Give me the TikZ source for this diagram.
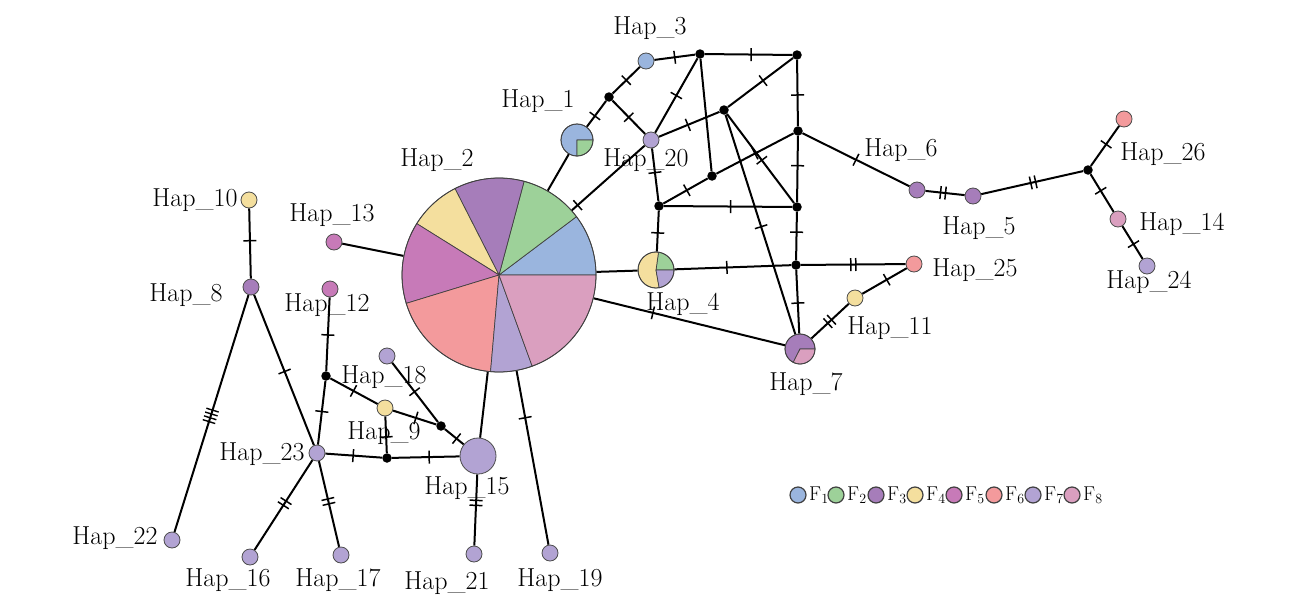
\documentclass[tikz,border=0pt]{standalone}
\usetikzlibrary{decorations.markings}
\definecolor{cA}{HTML}{9AB5DE}
\definecolor{cB}{HTML}{9DD199}
\definecolor{cC}{HTML}{A67DBA}
\definecolor{cD}{HTML}{F4DF9E}
\definecolor{cE}{HTML}{C77AB8}
\definecolor{cF}{HTML}{F39A9C}
\definecolor{cG}{HTML}{B2A3D3}
\definecolor{cH}{HTML}{DA9FBF}
\pgfdeclarelayer{bg}
\pgfdeclarelayer{paper}
\pgfsetlayers{paper,bg,main}
\newcommand{\pieslc}[6]{\begin{scope}[shift={(#1,#2)},x=1pt,y=1pt]\filldraw[fill=#6,draw=black!75,line width=0.7pt] (0,0) -- (#4:#3) arc[start angle=#4,end angle=#5,radius=#3] -- cycle;\end{scope}}
\tikzset{
  hap/.style={circle,draw=black!70,line width=0.8pt,minimum size=16pt,inner sep=0pt},
  pienode/.style={circle,draw=black!75,line width=0.8pt,inner sep=0pt},
  mv/.style={circle,fill=black,minimum size=9.5pt,inner sep=0pt},
  lbl/.style={font=\fontsize{26}{30}\selectfont,inner sep=0pt},
  edge/.style={line width=2pt},
  tk/.style={postaction={decorate,decoration={markings,mark=at position #1 with {\draw[line width=1.5pt] (0pt,-6.5pt)--(0pt,6.5pt);}}}},
  tkk/.style={postaction={decorate,decoration={markings,mark=at position #1 with {\draw[line width=1.5pt] (-2.5pt,-6.5pt)--(-2.5pt,6.5pt) (2.5pt,-6.5pt)--(2.5pt,6.5pt);}}}},
  tkkkk/.style={postaction={decorate,decoration={markings,mark=at position #1 with {\draw[line width=1.4pt] (-6pt,-6.5pt)--(-6pt,6.5pt) (-2pt,-6.5pt)--(-2pt,6.5pt) (2pt,-6.5pt)--(2pt,6.5pt) (6pt,-6.5pt)--(6pt,6.5pt);}}}},
  leg/.style={circle,draw=black!75,line width=1.2pt,minimum size=16pt,inner sep=0pt},
  legt/.style={font=\fontsize{20}{22}\selectfont,anchor=west,inner sep=0pt}
}
\begin{document}
\begin{tikzpicture}[x=1pt,y=-1pt]
\useasboundingbox (0,0) rectangle (1292,605);
\begin{pgfonlayer}{paper}
\fill[white] (0,0) rectangle (1292,605);
\end{pgfonlayer}
% pies
\pieslc{499}{275}{97}{0}{37}{cA}
\pieslc{499}{275}{97}{37}{75}{cB}
\pieslc{499}{275}{97}{75}{117}{cC}
\pieslc{499}{275}{97}{117}{148}{cD}
\pieslc{499}{275}{97}{148}{197}{cE}
\pieslc{499}{275}{97}{197}{265}{cF}
\pieslc{499}{275}{97}{265}{290}{cG}
\pieslc{499}{275}{97}{290}{360}{cH}
\node[pienode,minimum size=194pt] (h2) at (499,275) {};
\pieslc{577}{140}{16}{0}{270}{cA}
\pieslc{577}{140}{16}{270}{360}{cB}
\node[pienode,minimum size=32pt] (h1) at (577,140) {};
\pieslc{656}{270}{18}{0}{82}{cB}
\pieslc{656}{270}{18}{82}{280}{cD}
\pieslc{656}{270}{18}{280}{360}{cG}
\node[pienode,minimum size=36pt] (h4) at (656,270) {};
\pieslc{800}{349}{15}{0}{243}{cC}
\pieslc{800}{349}{15}{243}{360}{cH}
\node[pienode,minimum size=30pt] (h7) at (800,349) {};
% haplotypes
\node[hap,fill=cA] (h3) at (646,61) {};
\node[hap,fill=cG] (h20) at (651,140) {};
\node[hap,fill=cC] (h6) at (917,190) {};
\node[hap,fill=cC] (h5) at (973,196) {};
\node[hap,fill=cF] (h26) at (1124,119) {};
\node[hap,fill=cH] (h14) at (1118,219) {};
\node[hap,fill=cG] (h24) at (1147,266) {};
\node[hap,fill=cF] (h25) at (914,264) {};
\node[hap,fill=cD] (h11) at (855,298) {};
\node[hap,fill=cD] (h10) at (249,200) {};
\node[hap,fill=cC] (h8) at (251,287) {};
\node[hap,fill=cE] (h13) at (334,242) {};
\node[hap,fill=cE] (h12) at (330,289) {};
\node[hap,fill=cG] (h18) at (387,356) {};
\node[hap,fill=cD] (h9) at (385,408) {};
\node[hap,fill=cG] (h23) at (317,453) {};
\node[hap,fill=cG,minimum size=36pt] (h15) at (478,456) {};
\node[hap,fill=cG] (h22) at (172,540) {};
\node[hap,fill=cG] (h16) at (250,557) {};
\node[hap,fill=cG] (h17) at (341,555) {};
\node[hap,fill=cG] (h21) at (474,554) {};
\node[hap,fill=cG] (h19) at (550,553) {};
% median vectors
\node[mv] (ma) at (609,97) {};
\node[mv] (mb) at (700,54) {};
\node[mv] (mc) at (797,55) {};
\node[mv] (md) at (724,110) {};
\node[mv] (me) at (798,131) {};
\node[mv] (mf) at (712,176) {};
\node[mv] (mg) at (659,206) {};
\node[mv] (mh) at (797,207) {};
\node[mv] (mi) at (796,265) {};
\node[mv] (mj) at (1088,170) {};
\node[mv] (mk) at (326,376) {};
\node[mv] (ml) at (441,426) {};
\node[mv] (mm) at (387,458) {};
% edges
\begin{pgfonlayer}{bg}
\draw[edge] (h2) -- (h1);
\draw[edge,tk=0.08] (h2) -- (h20);
\draw[edge,tk=0.42] (h1) -- (ma);
\draw[edge,tk=0.5] (ma) -- (h3);
\draw[edge,tk=0.5] (ma) -- (h20);
\draw[edge,tk=0.5] (h3) -- (mb);
\draw[edge,tk=0.53] (mb) -- (mc);
\draw[edge,tk=0.5] (h20) -- (mb);
\draw[edge] (mb) -- (mf);
\draw[edge,tk=0.54] (md) -- (mc);
\draw[edge,tk=0.53] (mc) -- (me);
\draw[edge,tk=0.48] (h20) -- (md);
\draw[edge,tk=0.46] (h20) -- (mg);
\draw[edge,tk=0.53] (mg) -- (mf);
\draw[edge,tk=0.5] (mf) -- (me);
\draw[edge,tk=0.52] (md) -- (mh);
\draw[edge,tk=0.52] (mg) -- (mh);
\draw[edge,tk=0.45] (me) -- (mh);
\draw[edge,tk=0.42] (mh) -- (mi);
\draw[edge,tk=0.54] (mg) -- (h4);
\draw[edge,tk=0.45] (h4) -- (mi);
\draw[edge,tk=0.52] (mi) -- (h7);
\draw[edge,tk=0.51] (md) -- (h7);
\draw[edge,tk=0.31] (h2) -- (h7);
\draw[edge] (h2) -- (h4);
\draw[edge,tk=0.5] (me) -- (h6);
\draw[edge,tkk=0.45] (h6) -- (h5);
\draw[edge,tkk=0.51] (h5) -- (mj);
\draw[edge,tk=0.54] (mj) -- (h26);
\draw[edge,tk=0.44] (mj) -- (h14);
\draw[edge,tk=0.55] (h14) -- (h24);
\draw[edge,tkk=0.5] (mi) -- (h25);
\draw[edge,tk=0.45] (h25) -- (h11);
\draw[edge,tkk=0.49] (h7) -- (h11);
\draw[edge] (h2) -- (h13);
\draw[edge,tk=0.46] (h10) -- (h8);
\draw[edge,tkkkk=0.51] (h8) -- (h22);
\draw[edge,tk=0.51] (h8) -- (h23);
\draw[edge,tk=0.51] (h12) -- (mk);
\draw[edge,tk=0.48] (mk) -- (h23);
\draw[edge,tk=0.49] (mk) -- (h9);
\draw[edge,tk=0.53] (h9) -- (ml);
\draw[edge,tk=0.49] (h18) -- (ml);
\draw[edge,tk=0.62] (ml) -- (h15);
\draw[edge,tk=0.56] (h9) -- (mm);
\draw[edge,tk=0.49] (h23) -- (mm);
\draw[edge,tk=0.55] (mm) -- (h15);
\draw[edge,tkk=0.48] (h23) -- (h16);
\draw[edge,tkk=0.47] (h23) -- (h17);
\draw[edge,tkk=0.40] (h15) -- (h21);
\draw[edge] (h2) -- (h15);
\draw[edge,tk=0.27] (h2) -- (h19);
\end{pgfonlayer}
% labels
\node[lbl] (l1) at (538,101) {Hap\_1};
\node[lbl] (l2) at (437,160) {Hap\_2};
\node[lbl] (l3) at (650,28) {Hap\_3};
\node[lbl] (l4) at (683,304) {Hap\_4};
\node[lbl] (l5) at (979,228) {Hap\_5};
\node[lbl] (l6) at (901,150) {Hap\_6};
\node[lbl] (l7) at (806,384) {Hap\_7};
\node[lbl] (l8) at (186,295) {Hap\_8};
\node[lbl] (l9) at (384,433) {Hap\_9};
\node[lbl] (l10) at (195,200) {Hap\_10};
\node[lbl] (l11) at (890,328) {Hap\_11};
\node[lbl] (l12) at (327,305) {Hap\_12};
\node[lbl] (l13) at (332,215) {Hap\_13};
\node[lbl] (l14) at (1182,224) {Hap\_14};
\node[lbl] (l15) at (467,488) {Hap\_15};
\node[lbl] (l16) at (228,580) {Hap\_16};
\node[lbl] (l17) at (338,580) {Hap\_17};
\node[lbl] (l18) at (384,377) {Hap\_18};
\node[lbl] (l19) at (560,580) {Hap\_19};
\node[lbl] (l20) at (646,160) {Hap\_20};
\node[lbl] (l21) at (447,583) {Hap\_21};
\node[lbl] (l22) at (115,538) {Hap\_22};
\node[lbl] (l23) at (262,454) {Hap\_23};
\node[lbl] (l24) at (1149,282) {Hap\_24};
\node[lbl] (l25) at (975,270) {Hap\_25};
\node[lbl] (l26) at (1163,154) {Hap\_26};
% legend
\node[leg,fill=cA] (g1) at (798,495) {};
\node[legt] (t1) at (809,495) {F\textsubscript{1}};
\node[leg,fill=cB] (g2) at (836,495) {};
\node[legt] (t2) at (847,495) {F\textsubscript{2}};
\node[leg,fill=cC] (g3) at (876,495) {};
\node[legt] (t3) at (887,495) {F\textsubscript{3}};
\node[leg,fill=cD] (g4) at (915,495) {};
\node[legt] (t4) at (926,495) {F\textsubscript{4}};
\node[leg,fill=cE] (g5) at (954,495) {};
\node[legt] (t5) at (965,495) {F\textsubscript{5}};
\node[leg,fill=cF] (g6) at (994,495) {};
\node[legt] (t6) at (1005,495) {F\textsubscript{6}};
\node[leg,fill=cG] (g7) at (1033,495) {};
\node[legt] (t7) at (1044,495) {F\textsubscript{7}};
\node[leg,fill=cH] (g8) at (1072,495) {};
\node[legt] (t8) at (1083,495) {F\textsubscript{8}};
\end{tikzpicture}
\end{document}
